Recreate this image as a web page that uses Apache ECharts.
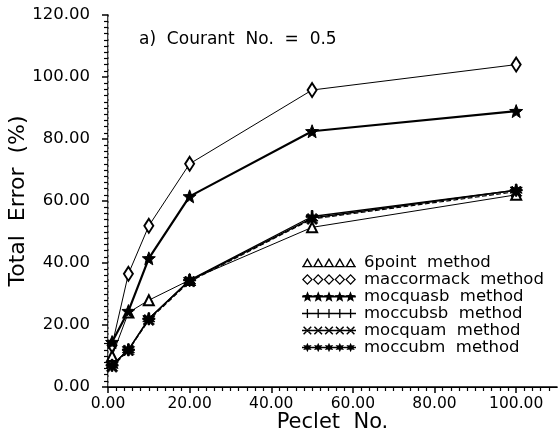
<!DOCTYPE html>
<html>
<head>
<meta charset="utf-8">
<script src="https://cdn.jsdelivr.net/npm/echarts@6/dist/echarts.min.js"></script>
<style>
html,body{margin:0;padding:0;background:#fff;}
#chart{width:558px;height:439px;}
</style>
</head>
<body>
<div id="chart"></div>
<script>
// ---- data ----
const peclet = [1, 5, 10, 20, 50, 100];
const sixPoint   = [10, 24, 28, 34.5, 51.5, 62];
const maccormack = [13.5, 36.5, 52, 72, 95.8, 104];
const mocquasb   = [14.5, 24.5, 41.5, 61.5, 82.5, 89];
const moccubsb   = [7, 12, 22, 34.5, 55, 63.5];
const mocquam    = [6.5, 11.8, 21.6, 34, 54.2, 63];
const moccubm    = [7, 12, 22, 34.3, 54.5, 63.5];
const seriesNames = ['6point  method', 'maccormack  method', 'mocquasb  method', 'moccubsb  method', 'mocquam  method', 'moccubm  method'];
const yTicks = [0, 20, 40, 60, 80, 100, 120];
const xTicks = [0, 20, 40, 60, 80, 100];

// ---- symbol shapes ----
function starPath(cx, cy, ro, ri, n) {
  let d = '';
  for (let i = 0; i < 2 * n; i++) {
    const r = i % 2 === 0 ? ro : ri;
    const a = -Math.PI / 2 + i * Math.PI / n;
    const x = (cx + r * Math.cos(a)).toFixed(2), y = (cy + r * Math.sin(a)).toFixed(2);
    d += (i === 0 ? 'M' : 'L') + x + ',' + y;
  }
  return d + 'Z';
}
function rect(x1, y1, x2, y2) {
  return 'M' + x1 + ',' + y1 + 'L' + x2 + ',' + y1 + 'L' + x2 + ',' + y2 + 'L' + x1 + ',' + y2 + 'Z';
}
function plusShape(cx, cy, r, w) {
  return rect(cx - r, cy - w, cx + r, cy + w) + rect(cx - w, cy - r, cx + w, cy + r);
}
function xShape(cx, cy, r, w) {
  const bar = (dx, dy) => {
    const px = -dy * w, py = dx * w;
    return 'M' + (cx - dx * r + px) + ',' + (cy - dy * r + py) + 'L' + (cx + dx * r + px) + ',' + (cy + dy * r + py) +
      'L' + (cx + dx * r - px) + ',' + (cy + dy * r - py) + 'L' + (cx - dx * r - px) + ',' + (cy - dy * r - py) + 'Z';
  };
  const s = Math.SQRT1_2;
  return bar(s, s) + bar(s, -s);
}
function triRing(x) {
  return 'M' + x + ',10L' + (x + 5) + ',1L' + (x + 10) + ',10Z' +
         'M' + (x + 2.2) + ',8.8L' + (x + 7.8) + ',8.8L' + (x + 5) + ',3.6Z';
}
function diaRing(x) {
  return 'M' + x + ',5L' + (x + 5) + ',0L' + (x + 10) + ',5L' + (x + 5) + ',10Z' +
         'M' + (x + 1.6) + ',5L' + (x + 5) + ',8.4L' + (x + 8.4) + ',5L' + (x + 5) + ',1.6Z';
}
function legendIcon(kind) {
  let d = '';
  for (let i = 0; i < 5; i++) {
    const x = i * 10, cx = x + 5;
    if (kind === 'tri') d += triRing(x);
    else if (kind === 'dia') d += diaRing(x);
    else if (kind === 'star') d += starPath(cx, 5.3, 5.4, 2.3, 5);
    else if (kind === 'plus') d += plusShape(cx, 5, 4.2, 0.6);
    else if (kind === 'x') d += xShape(cx, 5, 5, 0.7);
    else if (kind === 'ast') d += starPath(cx, 5, 4.5, 2.2, 6);
  }
  if (kind === 'tri') d += rect(0, 9, 50, 10);
  if (kind === 'star' || kind === 'plus' || kind === 'x' || kind === 'ast') d += rect(0, 4.4, 50, 5.6);
  return 'path://' + d;
}

const symStar = 'path://' + starPath(5, 5.3, 5.4, 2.3, 5);
const symPlus = 'path://' + plusShape(5, 5, 5, 0.7);
const symX    = 'path://' + xShape(5, 5, 5, 0.8);
const symAst  = 'path://' + starPath(5, 5, 5, 2.3, 6);

const icons = [legendIcon('tri'), legendIcon('dia'), legendIcon('star'), legendIcon('plus'), legendIcon('x'), legendIcon('ast')];

const FONT = 'DejaVu Sans';
const chart = echarts.init(document.getElementById('chart'), null, {renderer: 'canvas'});

function mk(name, vals, symbol, size, lw, extra) {
  return Object.assign({
    name: name,
    type: 'line',
    data: peclet.map((p, i) => [p, vals[i]]),
    symbol: symbol,
    symbolSize: size,
    showAllSymbol: true,
    lineStyle: {color: '#000', width: lw},
    itemStyle: {color: '#000', borderColor: '#000', borderWidth: 1},
    emphasis: {disabled: true},
    animation: false,
    z: 3
  }, extra || {});
}

const option = {
  backgroundColor: '#fff',
  animation: false,
  title: {
    text: 'a)  Courant  No.  =  0.5',
    left: 134, top: 26,
    textStyle: {fontFamily: FONT, fontSize: 17, fontWeight: 'normal', color: '#000'}
  },
  grid: {left: 108, top: 15, right: 1, bottom: 52, containLabel: false, outerBoundsMode: 'none'},
  legend: {
    orient: 'vertical',
    left: 302, top: 254, padding: 0,
    itemWidth: 54, itemHeight: 11, itemGap: 0,
    selectedMode: false,
    textStyle: {fontFamily: FONT, fontSize: 16.5, color: '#000', padding: [0, 0, 0, 3], lineHeight: 16.7},
    data: seriesNames.map((n, i) => ({name: n, icon: icons[i], itemStyle: {color: '#000', borderWidth: 0}}))
  },
  xAxis: [{
    type: 'value', min: 0, max: 110, interval: 20,
    name: 'Peclet  No.', nameLocation: 'middle', nameGap: 25, nameMoveOverlap: false,
    nameTextStyle: {fontFamily: FONT, fontSize: 21, color: '#000'},
    axisLine: {show: true, onZero: false, lineStyle: {color: '#000', width: 1.5}},
    axisTick: {show: true, length: 6, lineStyle: {color: '#000', width: 1.5},
      customValues: xTicks},
    minorTick: {show: true, splitNumber: 10, length: 4, lineStyle: {color: '#000', width: 1.2}},
    axisLabel: {fontFamily: FONT, fontSize: 15.5, color: '#000', margin: 9,
      customValues: xTicks,
      formatter: v => v.toFixed(2)},
    splitLine: {show: false}
  }, {
    type: 'value', min: 0, max: 110, position: 'top',
    axisLine: {show: true, lineStyle: {color: '#000', width: 1.2}},
    axisTick: {show: false}, axisLabel: {show: false}, splitLine: {show: false}
  }],
  yAxis: [{
    type: 'value', min: 0, max: 120, interval: 20,
    name: 'Total  Error  (%)', nameLocation: 'middle', nameGap: 79, nameRotate: 90, nameMoveOverlap: false,
    nameTextStyle: {fontFamily: FONT, fontSize: 22, color: '#000'},
    axisLine: {show: true, lineStyle: {color: '#000', width: 1.5}},
    axisTick: {show: true, length: 6, lineStyle: {color: '#000', width: 1.5}},
    minorTick: {show: true, splitNumber: 10, length: 4, lineStyle: {color: '#000', width: 1.2}},
    axisLabel: {fontFamily: FONT, fontSize: 16.5, color: '#000', margin: 18,
      formatter: v => v.toFixed(2)},
    splitLine: {show: false}
  }, {
    type: 'value', min: 0, max: 120, position: 'right',
    axisLine: {show: true, lineStyle: {color: '#bbb', width: 1, type: 'dashed'}},
    axisTick: {show: false}, axisLabel: {show: false}, splitLine: {show: false}
  }],
  series: [
    mk(seriesNames[0], sixPoint, 'emptyTriangle', 10, 1, {itemStyle: {color: '#000', borderWidth: 1.2}}),
    mk(seriesNames[1], maccormack, 'emptyDiamond', [9, 14], 1, {itemStyle: {color: '#000', borderWidth: 1.2}}),
    mk(seriesNames[2], mocquasb, symStar, 13, 2.2),
    mk(seriesNames[3], moccubsb, symPlus, 12, 1.3),
    mk(seriesNames[4], mocquam, symX, 11, 1.3, {lineStyle: {color: '#000', width: 1.2, type: 'dashed'}}),
    mk(seriesNames[5], moccubm, symAst, 12, 1.5)
  ]
};
chart.setOption(option);
</script>
</body>
</html>
